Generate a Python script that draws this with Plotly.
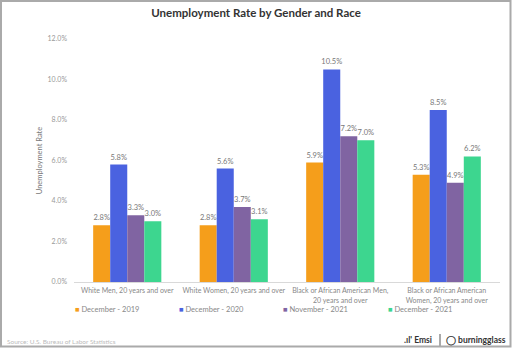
import plotly.graph_objects as go

categories = ["White Men, 20 years and over", "White Women, 20 years and over",
              "Black or African American Men,<br>20 years and over",
              "Black or African American<br>Women, 20 years and over"]
series_names = ["December - 2019", "December - 2020", "November - 2021", "December - 2021"]
dec_2019 = [2.8, 2.8, 5.9, 5.3]
dec_2020 = [5.8, 5.6, 10.5, 8.5]
nov_2021 = [3.3, 3.7, 7.2, 4.9]
dec_2021 = [3.0, 3.1, 7.0, 6.2]
colors = ["#F59E1B", "#4A62E0", "#8064A2", "#3DD68F"]
y_ticks = [0, 2, 4, 6, 8, 10, 12]

W, H = 512, 348
ml, mr, mt, mb = 74, 12, 39, 66
pw, ph = W - ml - mr, H - mt - mb


def px_x(x):
    return (x - ml) / pw


def px_y(y):
    return (H - mb - y) / ph


fig = go.Figure()
for name, vals, col in zip(series_names, [dec_2019, dec_2020, nov_2021, dec_2021], colors):
    fig.add_trace(go.Bar(
        name=name, x=categories, y=vals, showlegend=False,
        marker=dict(color=col, line=dict(width=0)),
        text=[f"{v:.1f}%" for v in vals], textposition="outside",
        textfont=dict(size=7.5, color="#777", family="Lato"),
        constraintext="none", cliponaxis=False,
    ))

fig.update_layout(
    width=W, height=H,
    margin=dict(l=ml, r=mr, t=mt, b=mb, autoexpand=False),
    paper_bgcolor="white", plot_bgcolor="white",
    barmode="group", bargap=0.36, bargroupgap=0,
    font=dict(family="Lato", color="#888"),
    title=dict(text="<b>Unemployment Rate by Gender and Race</b>", x=0.5, xanchor="center",
               y=1 - 12.5 / H, yanchor="middle", font=dict(size=11.5, color="#333", family="Lato")),
    yaxis=dict(range=[0, 12], tickvals=y_ticks, ticktext=[f"{t:.1f}%" for t in y_ticks],
               showgrid=False, zeroline=False, showline=False, automargin=False,
               tickfont=dict(size=7, color="#999"), ticklabelstandoff=6,
               title=dict(text="Unemployment Rate", font=dict(size=7.5, color="#777"), standoff=3)),
    xaxis=dict(showline=True, linecolor="#d9d9d9", linewidth=1, tickangle=0, automargin=False,
               tickfont=dict(size=7, color="#888"), ticks="", ticklabelstandoff=2),
    showlegend=False,
)

# legend row
legend_x = [75, 179, 283, 388]
for name, col, lx in zip(series_names, colors, legend_x):
    fig.add_annotation(text=f"<span style='color:{col}'>■</span> {name}", xref="paper", yref="paper",
                       x=px_x(lx - 2), y=px_y(309), xanchor="left", yanchor="middle",
                       showarrow=False, font=dict(size=7.5, color="#888"))

fig.add_annotation(text="Source: U.S. Bureau of Labor Statistics", xref="paper", yref="paper",
                   x=px_x(5), y=px_y(341), xanchor="left", yanchor="middle",
                   showarrow=False, font=dict(size=6.5, color="#bbb"))
fig.add_annotation(text="<b>.ıl' Emsi</b>", xref="paper", yref="paper",
                   x=px_x(402), y=px_y(340), xanchor="left", yanchor="middle",
                   showarrow=False, font=dict(size=8.5, color="#333"))
fig.add_annotation(text="<b>◯ burningglass</b>", xref="paper", yref="paper",
                   x=px_x(444), y=px_y(340), xanchor="left", yanchor="middle",
                   showarrow=False, font=dict(size=8.5, color="#333"))
fig.add_shape(type="line", xref="paper", yref="paper",
              x0=px_x(440), x1=px_x(440), y0=px_y(334), y1=px_y(346),
              line=dict(color="#555", width=1))
fig.add_shape(type="rect", xref="paper", yref="paper",
              x0=px_x(1), x1=px_x(510.5), y0=px_y(346.5), y1=px_y(1),
              line=dict(color="#aaa", width=2), layer="above")

fig.write_html("out.html")
